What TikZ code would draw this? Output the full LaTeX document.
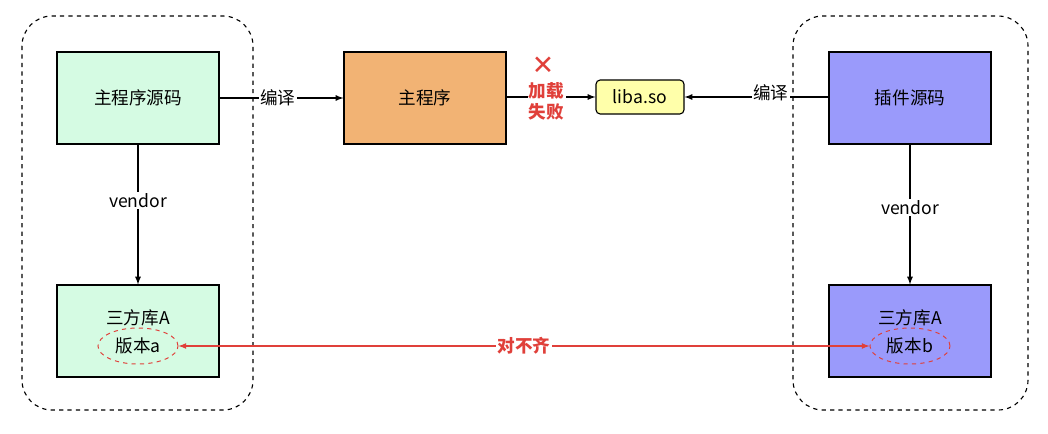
\documentclass[tikz,border=0pt]{standalone}
\usepackage{fontspec}
\setmainfont{Noto Sans CJK SC}
\newfontfamily\symfont{DejaVu Sans}
\usetikzlibrary{shapes,arrows}
\usetikzlibrary{calc}
\definecolor{srcgreen}{HTML}{D5FBE3}
\definecolor{mainorange}{HTML}{F2B374}
\definecolor{plugblue}{HTML}{9A9AFB}
\definecolor{soyellow}{HTML}{FFFFAA}
\definecolor{warnred}{HTML}{E0403A}
\tikzset{
  box/.style={draw, line width=0.8pt, minimum width=4.05cm, minimum height=2.3cm, font=\fontsize{12.5}{15}\selectfont},
  group/.style={draw, dashed, rounded corners=0.75cm, line width=0.8pt},
  link/.style={-latex, line width=0.9pt},
  lbl/.style={fill=white, inner sep=1pt, font=\fontsize{12.5}{14}\selectfont},
}
\begin{document}
\begin{tikzpicture}[x=0.025cm, y=-0.025cm]
\useasboundingbox (0,0) rectangle (1048,434);

\draw[group] (22,16) rectangle (253,410);
\draw[group] (793,16) rectangle (1028,410);

\node[box, fill=srcgreen] (src) at (138,98) {主程序源码};
\node[box, fill=srcgreen] (libA) at (138,331) {};
\node[box, fill=mainorange] (prog) at (425,98) {主程序};
\node[draw, line width=0.8pt, rounded corners=3pt, fill=soyellow, minimum width=2.2cm, minimum height=0.85cm,
  font=\fontsize{12.5}{15}\selectfont] (so) at (640,97) {liba.so};
\node[box, fill=plugblue] (plug) at (910,98) {插件源码};
\node[box, fill=plugblue] (libB) at (910,331) {};

\node[font=\fontsize{12.5}{15}\selectfont] (tA) at (138,318) {三方库A};
\node[font=\fontsize{12.5}{15}\selectfont] (tB) at (910,318) {三方库A};
\node[draw=warnred, dashed, line width=0.7pt, ellipse, minimum width=2cm, minimum height=0.9cm, inner sep=0pt,
  font=\fontsize{12.5}{15}\selectfont] (va) at (138,346) {版本a};
\node[draw=warnred, dashed, line width=0.7pt, ellipse, minimum width=2cm, minimum height=0.9cm, inner sep=0pt,
  font=\fontsize{12.5}{15}\selectfont] (vb) at (910,346) {版本b};

\draw[link] (src) -- node[lbl, pos=0.47] {编译} (prog);
\draw[link] (plug.west |- so) -- node[lbl, pos=0.4, yshift=3pt] {编译} (so);
\draw[link] (prog.east |- so) -- node[lbl, pos=0.45, text=warnred, font=\fontsize{12.5}{15}\bfseries\selectfont,
  align=center, yshift=-3pt] (fail) {加载\\失败} (so);
\node[text=warnred, font=\fontsize{19}{19}\symfont\bfseries] (cross) at (543,66) {✕};
\draw[link] (src) -- node[lbl, pos=0.4] {vendor} (libA);
\draw[link] (plug) -- node[lbl, pos=0.45] {vendor} (libB);
\draw[latex-latex, warnred, line width=0.9pt] (va) -- node[lbl, text=warnred, font=\fontsize{12.5}{14}\bfseries\selectfont] {对不齐} (vb);

\end{tikzpicture}
\end{document}
